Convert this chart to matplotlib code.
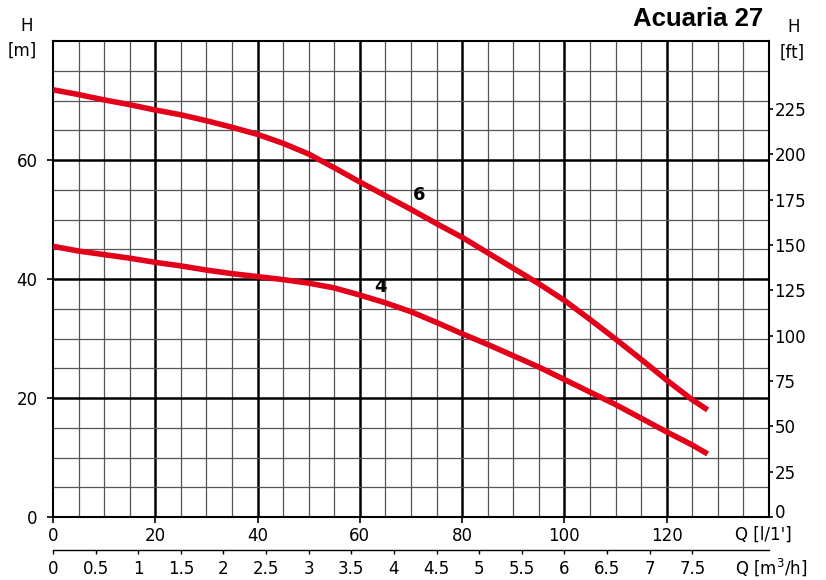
import numpy as np
from matplotlib import pyplot as plt
from matplotlib.transforms import ScaledTranslation

# flow Q [l/min] and head H [m]
q = [0, 5, 10, 15, 20, 25, 30, 35, 40, 45, 50, 55, 60, 65, 70, 75, 80, 85,
     90, 95, 100, 105, 110, 115, 120, 125, 128]
h_6 = [71.8, 71.0, 70.1, 69.3, 68.4, 67.6, 66.6, 65.5, 64.3, 62.8, 61.0, 58.7,
       56.3, 54.0, 51.7, 49.3, 47.0, 44.4, 41.8, 39.2, 36.4, 33.2, 29.9, 26.5,
       23.0, 19.7, 18.0]
h_4 = [45.5, 44.7, 44.1, 43.5, 42.8, 42.2, 41.5, 40.9, 40.4, 39.9, 39.3, 38.5,
       37.3, 36.0, 34.5, 32.7, 30.8, 29.0, 27.1, 25.2, 23.1, 21.0, 18.9, 16.6,
       14.3, 12.1, 10.6]

curve_labels = ['6', '4']
label_pos = [(71.5, 54.2), (64.1, 38.7)]

q_ticks = [0, 20, 40, 60, 80, 100, 120]
h_ticks = [0, 20, 40, 60]
ft_ticks = [0, 25, 50, 75, 100, 125, 150, 175, 200, 225]
m3h_ticks = [0, 0.5, 1, 1.5, 2, 2.5, 3, 3.5, 4, 4.5, 5, 5.5, 6, 6.5, 7, 7.5]

M_TO_FT = 3.28084
LMIN_TO_M3H = 0.06
red = '#e2001a'

plt.rcParams['font.family'] = 'DejaVu Sans'
fig = plt.figure(figsize=(8.26, 5.8), dpi=100)
W, H = 826, 580
ax = fig.add_axes([53 / W, 1 - 517 / H, (769 - 53) / W, (517 - 41) / H])
ax.set_xlim(0, 140)
ax.set_ylim(0, 80)

# grid
for x in np.arange(5, 140, 5):
    major = x % 20 == 0
    ax.axvline(x, color='black' if major else '#555555', lw=1.8 if major else 0.9, zorder=1)
for y in np.arange(5, 80, 5):
    major = y % 20 == 0
    ax.axhline(y, color='black' if major else '#555555', lw=1.8 if major else 0.9, zorder=1)

ax.plot(q, h_6, color=red, lw=4.0, zorder=3, solid_capstyle='butt', solid_joinstyle='round')
ax.plot(q, h_4, color=red, lw=4.0, zorder=3, solid_capstyle='butt', solid_joinstyle='round')
for lab, (x, y) in zip(curve_labels, label_pos):
    ax.text(x, y, lab, fontsize=13, fontweight='bold', ha='center', va='center', zorder=4)

for sp in ax.spines.values():
    sp.set_linewidth(1.5)

ax.set_xticks(q_ticks)
ax.set_yticks(h_ticks)
ax.tick_params(axis='x', labelsize=12, length=4, width=1.2, pad=3)
ax.tick_params(axis='y', labelsize=12, length=4, width=1.2, pad=7)

# right axis in feet
axr = ax.twinx()
axr.set_ylim(0, 80 * M_TO_FT)
axr.set_yticks(ft_ticks)
axr.tick_params(axis='y', labelsize=12, length=3, width=1.2, pad=1)
for sp in axr.spines.values():
    sp.set_visible(False)
# lift the "0" a bit so it clears the Q label, as in the reference
lab0 = axr.yaxis.get_major_ticks()[0].label2
lab0.set_transform(lab0.get_transform() + ScaledTranslation(0, 4 / 72, fig.dpi_scale_trans))

# second flow axis in m3/h
sec = ax.secondary_xaxis(-33 / 476, functions=(lambda v: v * LMIN_TO_M3H,
                                               lambda v: v / LMIN_TO_M3H))
sec.set_xticks(m3h_ticks)
sec.set_xticklabels(['{:g}'.format(t) for t in m3h_ticks])
sec.tick_params(axis='x', labelsize=12, length=3, width=1.0, pad=4)
sec.spines['bottom'].set_linewidth(1.0)

fs = 12
fig.text(27 / W, 1 - 26 / H, 'H', fontsize=fs, ha='center', va='center')
fig.text(22 / W, 1 - 51 / H, '[m]', fontsize=fs, ha='center', va='center')
fig.text(794 / W, 1 - 27 / H, 'H', fontsize=fs, ha='center', va='center')
fig.text(792 / W, 1 - 53 / H, '[ft]', fontsize=fs, ha='center', va='center')
fig.text(735 / W, 1 - 535 / H, "Q [l/1']", fontsize=fs, ha='left', va='center')
fig.text(735 / W, 1 - 567 / H, 'Q [m$^3$/h]', fontsize=fs, ha='left', va='center')
fig.text(763 / W, 1 - 19 / H, 'Acuaria 27', fontsize=18.5, fontweight='bold',
         family='Liberation Sans', ha='right', va='center')

fig.savefig('out.png', dpi=100)
